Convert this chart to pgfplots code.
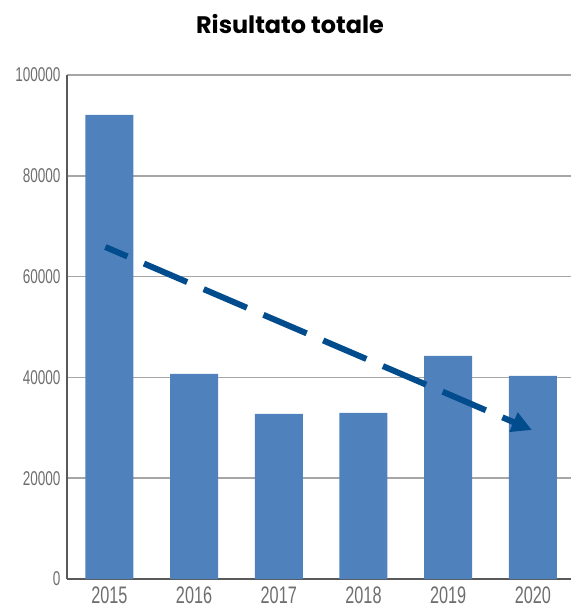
\documentclass[border=0pt]{standalone}
\usepackage{pgfplots}
\pgfplotsset{compat=1.18}
\usetikzlibrary{arrows.meta}
\usepackage{fontspec}
\setmainfont{Liberation Sans}
\newfontfamily\titlefont{Poppins}
\newfontfamily\tickfont[FakeStretch=0.68]{Liberation Sans}

\definecolor{barblue}{HTML}{4F81BD}
\definecolor{trendblue}{HTML}{004C8C}
\definecolor{gridgray}{HTML}{A6A6A6}
\definecolor{axisgray}{HTML}{595959}
\definecolor{labelgray}{HTML}{6E6E6E}

\begin{document}
\begin{tikzpicture}
\begin{axis}[
    at={(0,0)}, anchor=south west,
    scale only axis,
    width=504bp, height=504bp,
    xmin=-0.5, xmax=5.45,
    ymin=0, ymax=100000,
    xtick={0,1,2,3,4,5},
    xticklabels={2015,2016,2017,2018,2019,2020},
    ytick={0,20000,40000,60000,80000,100000},
    scaled y ticks=false,
    /pgf/number format/assume math mode=true,
    yticklabel={\pgfmathprintnumber[fixed,1000 sep={}]{\tick}},
    major tick length=0pt,
    ymajorgrids,
    grid style={draw=gridgray, line width=1.5bp},
    axis x line*=bottom,
    axis y line*=left,
    x axis line style={draw=axisgray, line width=2bp, -},
    y axis line style={draw=axisgray, line width=1.5bp, -},
    x tick label style={font=\tickfont\fontsize{24}{24}\selectfont, text=labelgray, yshift=-4bp},
    y tick label style={font=\tickfont\fontsize{20}{20}\selectfont, text=labelgray, xshift=-3bp},
    axis on top=false,
    clip=false,
  ]
  \addplot[ybar, bar width=48bp, fill=barblue, draw=none] coordinates {
    (0, 92063)
    (1, 40675)
    (2, 32738)
    (3, 32937)
    (4, 44246)
    (5, 40278)
  };
  \addplot[draw=trendblue, line width=6bp, line cap=butt,
           dash pattern=on 47bp off 18bp, dash phase=23bp,
           -{Triangle[length=20bp, width=20bp]}] coordinates {
    (-0.047, 65873)
    (4.988, 29563)
  };
\end{axis}
\node[anchor=base, font=\titlefont\bfseries\fontsize{24}{28}\selectfont] at (223bp,545bp) {Risultato totale};
\pgfresetboundingbox
\path[use as bounding box] (-67bp,-30bp) rectangle (504bp,579bp);
\end{tikzpicture}
\end{document}
